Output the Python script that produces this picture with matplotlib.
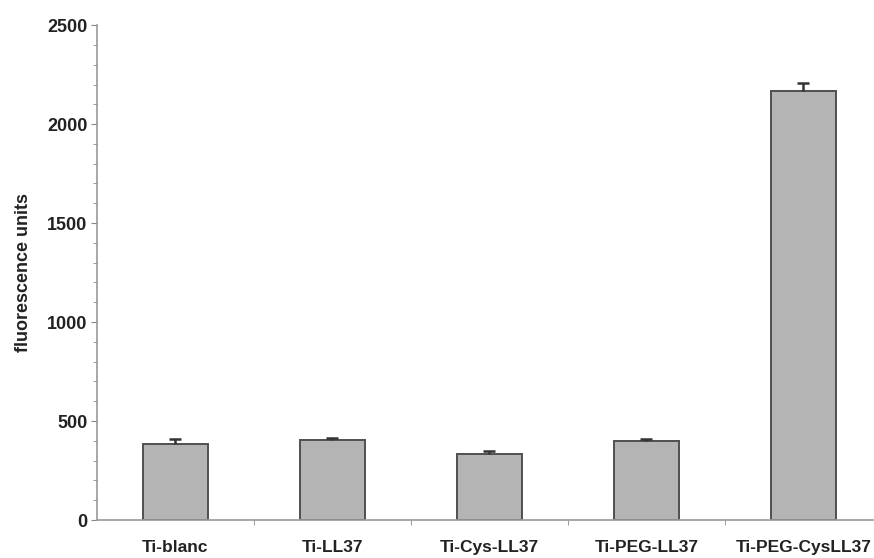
import numpy as np
import matplotlib
matplotlib.use("Agg")
import matplotlib.pyplot as plt
from matplotlib.ticker import MultipleLocator, FixedLocator

# data
kategoriler = ["Ti-blanc", "Ti-LL37", "Ti-Cys-LL37", "Ti-PEG-LL37", "Ti-PEG-CysLL37"]
degerler = [384, 404, 335, 400, 2168]
hatalar = [25, 11, 15, 10, 40]

plt.rcParams["font.family"] = ["Liberation Sans", "DejaVu Sans"]

fig = plt.figure(figsize=(8.74, 5.58), dpi=100)
ax = fig.add_axes([0.111, 0.068, 0.889, 0.887])

x = np.arange(len(kategoriler))
bars = ax.bar(x, degerler, width=0.41, color="#b4b4b4", edgecolor="#505050", linewidth=1.4,
              yerr=[np.zeros(len(hatalar)), hatalar], capsize=4,
              error_kw=dict(ecolor="#333333", elinewidth=1.8, capthick=1.8), zorder=2)
# only the upper cap is drawn in the original
caps = bars.errorbar.lines[1]
if len(caps) == 2:
    caps[0].set_visible(False)

ax.set_xlim(-0.5, 4.45)
ax.set_ylim(0, 2500)
ax.yaxis.set_major_locator(MultipleLocator(500))
ax.yaxis.set_minor_locator(MultipleLocator(100))

# x: labels at bar centres, small ticks at category borders
ax.set_xticks(x)
ax.set_xticklabels(kategoriler, fontsize=12.5, fontweight="bold", color="#222222")
ax.tick_params(axis="x", which="major", length=0, pad=14)
ax.xaxis.set_minor_locator(FixedLocator([0.5, 1.5, 2.5, 3.5]))
ax.tick_params(axis="x", which="minor", length=3.5, color="#888888", direction="out")

ax.tick_params(axis="y", which="major", length=4, color="#888888", labelsize=13, pad=3)
ax.tick_params(axis="y", which="minor", length=3, color="#888888")
for lbl in ax.get_yticklabels():
    lbl.set_fontweight("bold")
    lbl.set_color("#222222")

ax.set_ylabel("fluorescence units", fontsize=13, fontweight="bold", color="#222222", labelpad=11)

ax.spines["top"].set_visible(False)
ax.spines["right"].set_visible(False)
ax.spines["left"].set_color("#999999")
ax.spines["bottom"].set_color("#999999")
ax.spines["left"].set_linewidth(1.2)
ax.spines["bottom"].set_linewidth(1.2)

fig.savefig("out.png", dpi=100)
